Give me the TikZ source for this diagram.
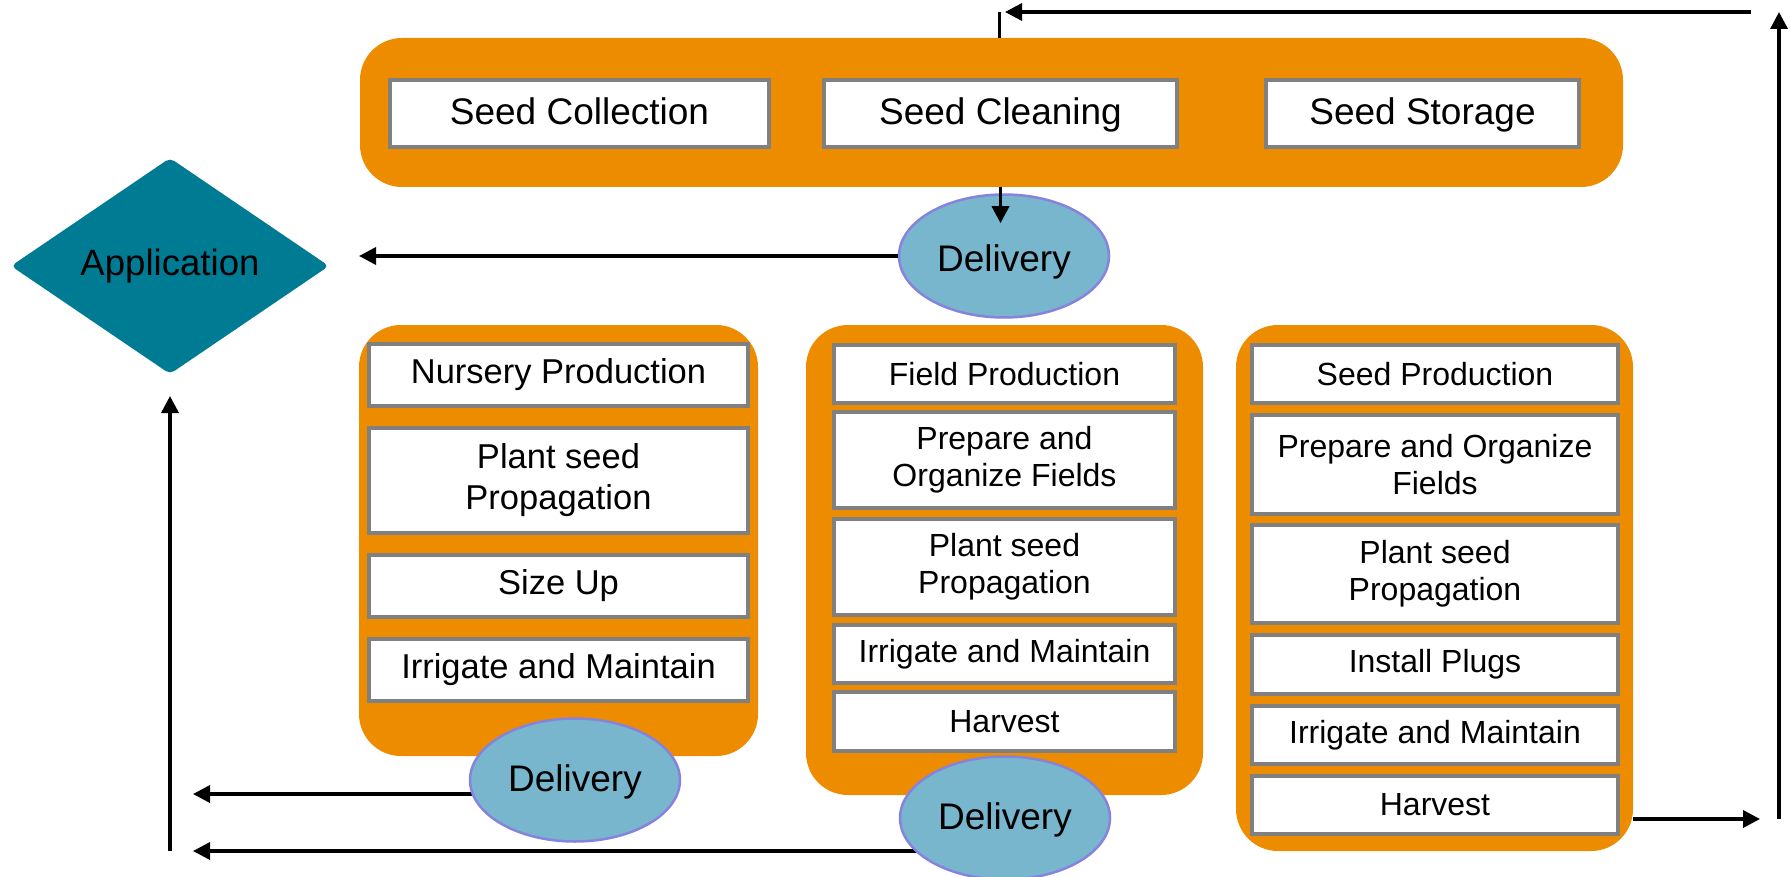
\documentclass[tikz,border=0pt]{standalone}
\usepackage{fontspec}
\setmainfont{Liberation Sans}
\usetikzlibrary{shapes.geometric,arrows.meta}
\definecolor{orng}{RGB}{238,140,0}
\definecolor{boxgray}{RGB}{128,128,128}
\definecolor{teal}{RGB}{0,123,148}
\definecolor{delblue}{RGB}{120,182,206}
\definecolor{delbord}{RGB}{135,130,220}
\pgfdeclarelayer{bg}
\pgfsetlayers{bg,main}
\begin{document}
\begin{tikzpicture}[x=1pt,y=-1pt,
  cont/.style={rectangle, fill=orng, rounded corners=42pt, inner sep=0pt, draw=none},
  box/.style={rectangle, fill=white, draw=boxgray, line width=3.5pt, inner sep=0pt, align=center},
  topbox/.style={box, minimum height=67pt, text height=31pt, text depth=8pt, font=\fontsize{37}{44}\selectfont},
  nbox/.style={box, minimum width=379pt, font=\fontsize{34.5}{41}\selectfont},
  fbox/.style={box, minimum width=341pt, font=\fontsize{32}{37}\selectfont},
  sbox/.style={box, minimum width=366pt, font=\fontsize{32}{37}\selectfont},
  deliv/.style={ellipse, fill=delblue, draw=delbord, line width=2.5pt, inner sep=0pt, minimum width=210pt, minimum height=123pt, text depth=8pt, font=\fontsize{37}{44}\selectfont},
  arr/.style={line width=3.5pt, -{Triangle[length=17pt,width=17pt]}},
  plain/.style={line width=3pt}
]
\useasboundingbox (0,0) rectangle (1790,877);
\begin{pgfonlayer}{bg}
\fill[white] (0,0) rectangle (1790,877);
\end{pgfonlayer}

% containers
\node[cont, minimum width=1263pt, minimum height=149pt] (topc) at (991.5,112.5) {};
\node[cont, minimum width=399pt, minimum height=431pt] (nurc) at (558.5,540.5) {};
\node[cont, minimum width=397pt, minimum height=470pt] (fldc) at (1004.5,560) {};
\node[cont, minimum width=397pt, minimum height=526pt] (sdc) at (1434.5,588) {};

% top row
\node[topbox, minimum width=379pt] (col) at (579.5,113.5) {Seed Collection};
\node[topbox, minimum width=353pt] (clean) at (1000.5,113.5) {Seed Cleaning};
\node[topbox, minimum width=313pt] (stor) at (1422.5,113.5) {Seed Storage};

% nursery
\node[nbox, minimum height=62pt] (np) at (558.5,375) {Nursery Production};
\node[nbox, minimum height=105pt] (nps) at (558.5,480.5) {Plant seed\\Propagation};
\node[nbox, minimum height=62pt] (nsu) at (558.5,586) {Size Up};
\node[nbox, minimum height=62pt] (nim) at (558.5,670) {Irrigate and Maintain};

% field
\node[fbox, minimum height=58pt] (fp) at (1004.5,374) {Field Production};
\node[fbox, minimum height=96pt] (fpo) at (1004.5,460) {Prepare and\\Organize Fields};
\node[fbox, minimum height=96pt] (fps) at (1004.5,567) {Plant seed\\Propagation};
\node[fbox, minimum height=58pt] (fim) at (1004.5,654) {Irrigate and Maintain};
\node[fbox, minimum height=59pt] (fh) at (1004.5,721.5) {Harvest};

% seed production
\node[sbox, minimum height=58pt] (sp) at (1435,374) {Seed Production};
\node[sbox, minimum height=99pt] (spo) at (1435,464.5) {Prepare and Organize\\Fields};
\node[sbox, minimum height=98pt] (sps) at (1435,574) {Plant seed\\Propagation};
\node[sbox, minimum height=59pt] (sip) at (1435,664.5) {Install Plugs};
\node[sbox, minimum height=58pt] (sim) at (1435,735) {Irrigate and Maintain};
\node[sbox, minimum height=58pt] (sh) at (1435,805) {Harvest};

% application
\node[diamond, fill=teal, inner sep=0pt, aspect=1.48, minimum width=318pt, minimum height=216pt, rounded corners=5pt, font=\fontsize{36.6}{44}\selectfont] (app) at (170,266) {Application};

% deliveries
\node[deliv, text height=39pt] (tdel) at (1004,256) {Delivery};
\node[deliv, text height=31pt] (ndel) at (575,780) {Delivery};
\node[deliv, text height=31pt] (fdel) at (1005,818) {Delivery};

% free ends
\coordinate (tt) at (999,12);
\coordinate (rt) at (1779,12);
\coordinate (rb) at (1779,819);
\coordinate (appr) at (359,256);
\coordinate (b1) at (193,794);
\coordinate (b2) at (193,851);
\coordinate (blc) at (170,851);
\coordinate (appb) at (170,396);

% connectors
\begin{pgfonlayer}{bg}
\draw[arr] (ndel.center |- b1) -- (b1);
\draw[arr] (fdel.center |- b2) -- (b2);
\end{pgfonlayer}
\draw[arr] (tdel.west) -- (appr);
\draw[arr] (blc) -- (appb);
\draw[arr] (topc.south -| clean) -- ++(0,36);
\draw[plain] (topc.north -| tt) -- (tt);
\draw[arr] ([xshift=-28pt]rt) -- ([xshift=6pt]tt);
\draw[arr] (rb) -- (rt);
\draw[arr] (sdc.east |- rb) -- ([xshift=-19pt]rb);
\end{tikzpicture}
\end{document}
